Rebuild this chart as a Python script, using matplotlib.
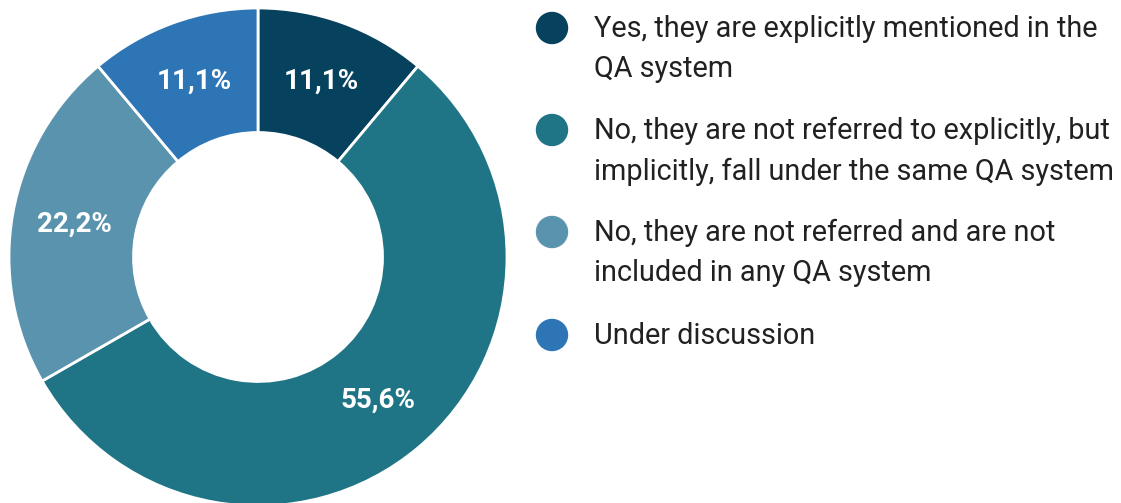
import matplotlib
matplotlib.use("Agg")
import matplotlib.pyplot as plt

plt.rcParams['font.family'] = ['Roboto', 'DejaVu Sans']

categories = [
    "Yes, they are explicitly mentioned in the\nQA system",
    "No, they are not referred to explicitly, but\nimplicitly, fall under the same QA system",
    "No, they are not referred and are not\nincluded in any QA system",
    "Under discussion",
]
shares = [11.1, 55.6, 22.2, 11.1]
colors = ["#06425E", "#1F7585", "#5A93AE", "#2E75B6"]

W, H = 1121, 503
fig = plt.figure(figsize=(W / 100, H / 100), dpi=100)

# Donut axes (pixel geometry: centre and outer radius)
cx, cy, r = 258, 257, 249
ax = fig.add_axes([(cx - r) / W, (H - cy - r) / H, 2 * r / W, 2 * r / H])
wedges, _, autotexts = ax.pie(
    shares, colors=colors, startangle=90, counterclock=False,
    radius=1.0, pctdistance=0.75,
    autopct=lambda p: f"{p:.1f}%".replace(".", ","),
    wedgeprops=dict(width=0.5, edgecolor="white", linewidth=2),
    textprops=dict(color="white", fontsize=20, fontweight="bold"),
)
ax.set_xlim(-1, 1)
ax.set_ylim(-1, 1)
ax.set_aspect("equal")
ax.axis("off")

# Legend drawn as circles and text
first_line_y = [28, 130, 232, 335]
for label, col, y in zip(categories, colors, first_line_y):
    dot = plt.Circle((552 / 100, (H - y) / 100), 0.155,
                     transform=fig.dpi_scale_trans, color=col)
    fig.patches.append(dot)
    fig.text(594 / W, 1 - (y - 13) / H, label, fontsize=20.8, color="#212121",
             va="top", ha="left", linespacing=1.55)

fig.savefig("out.png", dpi=100)
